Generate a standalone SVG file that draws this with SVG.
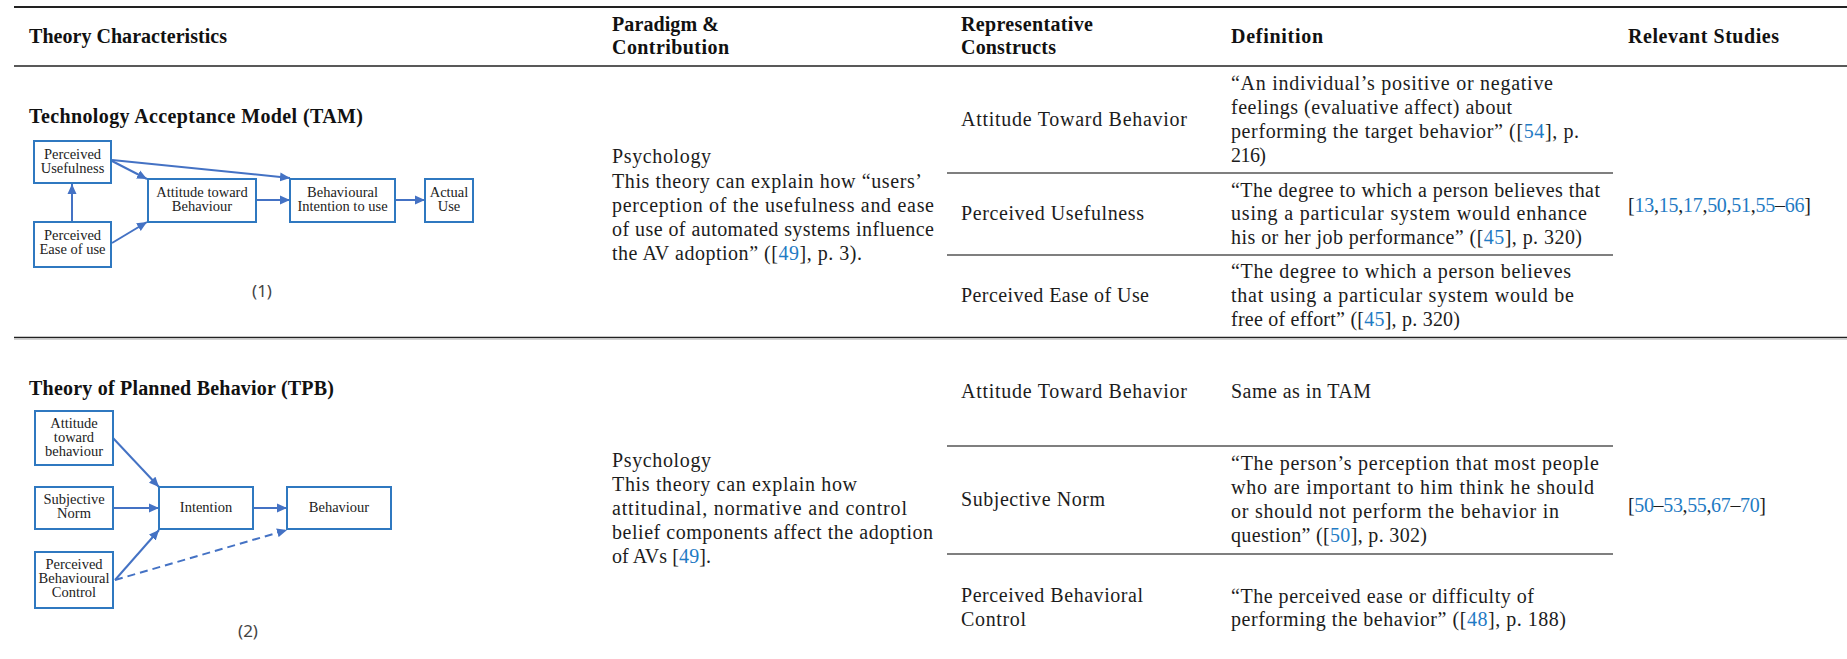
<svg xmlns="http://www.w3.org/2000/svg" width="1847" height="659" viewBox="0 0 1847 659">
<defs>
<style>
.t{font-family:"Liberation Serif","Times New Roman",serif;font-size:20px;fill:#1c1c1c}
.b{font-family:"Liberation Serif","Times New Roman",serif;font-size:20px;font-weight:bold;fill:#111}
.lk{fill:#1f7bc4}
.box{fill:#fff;stroke:#2f78c0;stroke-width:2}
.bt{font-family:"Liberation Serif","Times New Roman",serif;font-size:14.5px;fill:#222;text-anchor:middle}
.cap{font-family:"Noto Sans","DejaVu Sans",sans-serif;font-size:17px;fill:#444;text-anchor:middle}
.ar{stroke:#4472c4;stroke-width:2;fill:none;marker-end:url(#ah)}
.rule{stroke:#222;fill:none}
.row{stroke:#555;stroke-width:1.5}
</style>
<marker id="ah" viewBox="0 0 10 10" refX="10" refY="5" markerWidth="10" markerHeight="10" markerUnits="userSpaceOnUse" orient="auto">
<path d="M0,0.5 L10,5 L0,9.5 z" fill="#4472c4"/>
</marker>
</defs>
<rect width="1847" height="659" fill="#fff"/>

<g id="table-rules">
<line class="rule" x1="14" y1="7" x2="1847" y2="7" stroke-width="2"/>
<line class="rule" x1="14" y1="66" x2="1847" y2="66" stroke-width="1.4"/>
<line class="rule" x1="14" y1="337.5" x2="1847" y2="337.5" stroke-width="1.6" stroke="#333"/>
<line x1="14" y1="339.3" x2="1847" y2="339.3" stroke="#c8c8c8" stroke-width="1"/>
<line class="row" x1="947" y1="173" x2="1613" y2="173"/>
<line class="row" x1="947" y1="255" x2="1613" y2="255"/>
<line class="row" x1="947" y1="446" x2="1613" y2="446"/>
<line class="row" x1="947" y1="554" x2="1613" y2="554"/>
</g>

<g id="header">
<text class="b" x="29" y="43" textLength="198" lengthAdjust="spacing">Theory Characteristics</text>
<text class="b" x="612" y="31" textLength="107" lengthAdjust="spacing">Paradigm &amp;</text>
<text class="b" x="612" y="54" textLength="117" lengthAdjust="spacing">Contribution</text>
<text class="b" x="961" y="31" textLength="132" lengthAdjust="spacing">Representative</text>
<text class="b" x="961" y="54" textLength="95" lengthAdjust="spacing">Constructs</text>
<text class="b" x="1231" y="43" textLength="92" lengthAdjust="spacing">Definition</text>
<text class="b" x="1628" y="43" textLength="151" lengthAdjust="spacing">Relevant Studies</text>
</g>

<g id="tam-row">
<text class="b" x="29" y="123" textLength="334" lengthAdjust="spacing">Technology Acceptance Model (TAM)</text>
<text class="t" x="612" y="163" textLength="99" lengthAdjust="spacing">Psychology</text>
<text class="t" x="612" y="188" textLength="310" lengthAdjust="spacing">This theory can explain how “users’</text>
<text class="t" x="612" y="212" textLength="322" lengthAdjust="spacing">perception of the usefulness and ease</text>
<text class="t" x="612" y="236" textLength="322" lengthAdjust="spacing">of use of automated systems influence</text>
<text class="t" x="612" y="260" textLength="250" lengthAdjust="spacing">the AV adoption” ([<tspan class="lk">49</tspan>], p. 3).</text>
<text class="t" x="961" y="126" textLength="226" lengthAdjust="spacing">Attitude Toward Behavior</text>
<text class="t" x="961" y="220" textLength="183" lengthAdjust="spacing">Perceived Usefulness</text>
<text class="t" x="961" y="302" textLength="188" lengthAdjust="spacing">Perceived Ease of Use</text>
<text class="t" x="1231" y="90" textLength="322" lengthAdjust="spacing">“An individual’s positive or negative</text>
<text class="t" x="1231" y="114" textLength="281" lengthAdjust="spacing">feelings (evaluative affect) about</text>
<text class="t" x="1231" y="138" textLength="348" lengthAdjust="spacing">performing the target behavior” ([<tspan class="lk">54</tspan>], p.</text>
<text class="t" x="1231" y="162" textLength="35" lengthAdjust="spacing">216)</text>
<text class="t" x="1231" y="197" textLength="369" lengthAdjust="spacing">“The degree to which a person believes that</text>
<text class="t" x="1231" y="220" textLength="356" lengthAdjust="spacing">using a particular system would enhance</text>
<text class="t" x="1231" y="244" textLength="351" lengthAdjust="spacing">his or her job performance” ([<tspan class="lk">45</tspan>], p. 320)</text>
<text class="t" x="1231" y="278" textLength="340" lengthAdjust="spacing">“The degree to which a person believes</text>
<text class="t" x="1231" y="302" textLength="343" lengthAdjust="spacing">that using a particular system would be</text>
<text class="t" x="1231" y="326" textLength="229" lengthAdjust="spacing">free of effort” ([<tspan class="lk">45</tspan>], p. 320)</text>
<text class="t" x="1628" y="212" textLength="183" lengthAdjust="spacing">[<tspan class="lk">13</tspan>,<tspan class="lk">15</tspan>,<tspan class="lk">17</tspan>,<tspan class="lk">50</tspan>,<tspan class="lk">51</tspan>,<tspan class="lk">55</tspan>–<tspan class="lk">66</tspan>]</text>
</g>

<g id="tpb-row">
<text class="b" x="29" y="395" textLength="305" lengthAdjust="spacing">Theory of Planned Behavior (TPB)</text>
<text class="t" x="612" y="467" textLength="99" lengthAdjust="spacing">Psychology</text>
<text class="t" x="612" y="491" textLength="245" lengthAdjust="spacing">This theory can explain how</text>
<text class="t" x="612" y="515" textLength="295" lengthAdjust="spacing">attitudinal, normative and control</text>
<text class="t" x="612" y="539" textLength="321" lengthAdjust="spacing">belief components affect the adoption</text>
<text class="t" x="612" y="563" textLength="99" lengthAdjust="spacing">of AVs [<tspan class="lk">49</tspan>].</text>
<text class="t" x="961" y="398" textLength="226" lengthAdjust="spacing">Attitude Toward Behavior</text>
<text class="t" x="961" y="506" textLength="144" lengthAdjust="spacing">Subjective Norm</text>
<text class="t" x="961" y="602" textLength="182" lengthAdjust="spacing">Perceived Behavioral</text>
<text class="t" x="961" y="626" textLength="65" lengthAdjust="spacing">Control</text>
<text class="t" x="1231" y="398" textLength="140" lengthAdjust="spacing">Same as in TAM</text>
<text class="t" x="1231" y="470" textLength="368" lengthAdjust="spacing">“The person’s perception that most people</text>
<text class="t" x="1231" y="494" textLength="363" lengthAdjust="spacing">who are important to him think he should</text>
<text class="t" x="1231" y="518" textLength="328" lengthAdjust="spacing">or should not perform the behavior in</text>
<text class="t" x="1231" y="542" textLength="196" lengthAdjust="spacing">question” ([<tspan class="lk">50</tspan>], p. 302)</text>
<text class="t" x="1231" y="603" textLength="303" lengthAdjust="spacing">“The perceived ease or difficulty of</text>
<text class="t" x="1231" y="626" textLength="335" lengthAdjust="spacing">performing the behavior” ([<tspan class="lk">48</tspan>], p. 188)</text>
<text class="t" x="1628" y="512" textLength="138" lengthAdjust="spacing">[<tspan class="lk">50</tspan>–<tspan class="lk">53</tspan>,<tspan class="lk">55</tspan>,<tspan class="lk">67</tspan>–<tspan class="lk">70</tspan>]</text>
</g>

<g id="tam-connectors">
<line class="ar" x1="72" y1="222" x2="72" y2="184"/>
<line class="ar" x1="112" y1="161" x2="147" y2="179"/>
<line class="ar" x1="112" y1="243" x2="147" y2="222"/>
<line class="ar" x1="112" y1="160" x2="290" y2="178"/>
<line class="ar" x1="257" y1="200" x2="290" y2="200"/>
<line class="ar" x1="396" y1="200" x2="425" y2="200"/>
</g>
<g id="tam-pu"><rect class="box" x="34" y="141" width="77" height="42"/><text class="bt" x="72.5" y="159">Perceived</text><text class="bt" x="72.5" y="173">Usefulness</text></g>
<g id="tam-peu"><rect class="box" x="34" y="222" width="77" height="45"/><text class="bt" x="72.5" y="240">Perceived</text><text class="bt" x="72.5" y="254">Ease of use</text></g>
<g id="tam-att"><rect class="box" x="148" y="179" width="108" height="43"/><text class="bt" x="202" y="197">Attitude toward</text><text class="bt" x="202" y="211">Behaviour</text></g>
<g id="tam-bi"><rect class="box" x="290" y="179" width="105" height="43"/><text class="bt" x="342.5" y="197">Behavioural</text><text class="bt" x="342.5" y="211">Intention to use</text></g>
<g id="tam-use"><rect class="box" x="425" y="179" width="48" height="43"/><text class="bt" x="449" y="197">Actual</text><text class="bt" x="449" y="211">Use</text></g>
<text class="cap" x="262" y="297">(1)</text>

<g id="tpb-connectors">
<line class="ar" x1="113" y1="438" x2="159" y2="487"/>
<line class="ar" x1="113" y1="508" x2="159" y2="508"/>
<line class="ar" x1="115" y1="580" x2="159" y2="530"/>
<line class="ar" x1="115" y1="580" x2="287" y2="530" stroke-dasharray="8 5"/>
<line class="ar" x1="253" y1="508" x2="287" y2="508"/>
</g>
<g id="tpb-att"><rect class="box" x="35" y="411" width="78" height="54"/><text class="bt" x="74" y="428">Attitude</text><text class="bt" x="74" y="442">toward</text><text class="bt" x="74" y="456">behaviour</text></g>
<g id="tpb-sn"><rect class="box" x="35" y="487" width="78" height="42"/><text class="bt" x="74" y="504">Subjective</text><text class="bt" x="74" y="518">Norm</text></g>
<g id="tpb-pbc"><rect class="box" x="35" y="552" width="78" height="56"/><text class="bt" x="74" y="569">Perceived</text><text class="bt" x="74" y="583">Behavioural</text><text class="bt" x="74" y="597">Control</text></g>
<g id="tpb-int"><rect class="box" x="159" y="487" width="94" height="42"/><text class="bt" x="206" y="512">Intention</text></g>
<g id="tpb-beh"><rect class="box" x="287" y="487" width="104" height="42"/><text class="bt" x="339" y="512">Behaviour</text></g>
<text class="cap" x="248" y="637">(2)</text>
</svg>
